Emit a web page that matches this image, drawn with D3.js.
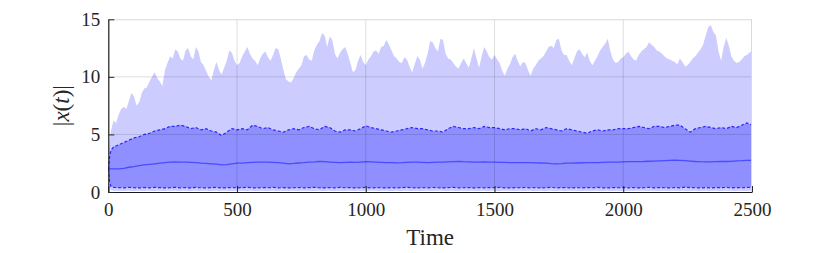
<!DOCTYPE html>
<html>
<head>
<meta charset="utf-8">
<script src="https://cdn.jsdelivr.net/npm/d3@7"></script>
<style>
  html, body { margin: 0; padding: 0; background: #fff; }
  svg { display: block; }
  svg text { font-family: 'Liberation Serif', 'Times New Roman', serif; }
</style>
</head>
<body>
<svg id="chart" width="830" height="253"></svg>
<script>
// ---- data ----
const time = [0, 5, 10, 20, 40, 60, 80, 100, 120, 140, 160, 180, 200, 220, 240, 260, 280, 300, 320, 340, 360, 380, 400, 420, 440, 460, 480, 500, 520, 540, 560, 580, 600, 620, 640, 660, 680, 700, 720, 740, 760, 780, 800, 820, 840, 860, 880, 900, 920, 940, 960, 980, 1000, 1020, 1040, 1060, 1080, 1100, 1120, 1140, 1160, 1180, 1200, 1220, 1240, 1260, 1280, 1300, 1320, 1340, 1360, 1380, 1400, 1420, 1440, 1460, 1480, 1500, 1520, 1540, 1560, 1580, 1600, 1620, 1640, 1660, 1680, 1700, 1720, 1740, 1760, 1780, 1800, 1820, 1840, 1860, 1880, 1900, 1920, 1940, 1960, 1980, 2000, 2020, 2040, 2060, 2080, 2100, 2120, 2140, 2160, 2180, 2200, 2220, 2240, 2260, 2280, 2300, 2320, 2340, 2360, 2380, 2400, 2420, 2440, 2460, 2480, 2500];

const maxVals = [2.0, 4.4, 5.3, 6.2, 6.7, 7.4, 7.9, 8.3, 7.8, 9.0, 9.6, 10.4, 9.6, 10.6, 11.8, 12.4, 11.6, 12.3, 11.8, 12.6, 11.3, 10.5, 9.7, 11.3, 10.2, 11.4, 12.1, 11.0, 11.8, 12.6, 11.6, 11.0, 12.0, 11.7, 11.9, 12.4, 10.6, 9.6, 9.9, 10.7, 11.8, 11.5, 12.3, 13.1, 13.6, 13.5, 12.0, 12.1, 12.6, 11.2, 10.6, 11.9, 11.0, 11.8, 12.3, 12.6, 13.2, 12.3, 11.6, 11.2, 11.5, 10.4, 11.8, 10.7, 12.0, 13.0, 12.2, 13.2, 11.6, 11.2, 10.7, 11.6, 10.8, 12.5, 10.8, 12.6, 11.7, 11.9, 11.2, 10.1, 11.1, 12.0, 10.9, 11.2, 10.1, 11.0, 11.6, 12.2, 12.7, 13.2, 12.3, 11.9, 11.0, 12.2, 12.0, 12.1, 11.0, 11.8, 12.6, 13.3, 11.5, 11.3, 11.7, 12.2, 11.5, 11.9, 12.4, 13.0, 12.6, 12.2, 11.8, 11.5, 11.3, 11.6, 10.9, 11.3, 11.8, 12.4, 13.6, 14.5, 13.6, 11.4, 13.4, 11.8, 11.2, 11.5, 11.9, 12.3];

// extra envelope samples between the main ones (t = 30, 50, ..., 2490)
const maxMidTime = d3.range(30, 2500, 20);
const maxMidVals = [6.0, 7.2, 7.2, 8.6, 7.5, 8.6, 9.1, 10.0, 9.9, 9.2, 11.2, 11.6, 12.2, 11.4, 12.5, 11.5, 12.2, 11.0, 10.0, 10.6, 10.6, 10.8, 12.3, 11.4, 11.2, 12.2, 12.0, 11.4, 11.6, 12.2, 11.4, 12.5, 11.6, 9.8, 9.5, 10.4, 11.0, 11.9, 11.4, 12.8, 13.8, 12.6, 13.2, 11.6, 12.4, 12.0, 10.4, 11.4, 11.3, 11.5, 12.2, 12.0, 12.7, 12.8, 11.8, 11.3, 11.7, 10.9, 11.1, 11.5, 11.2, 13.1, 12.5, 13.3, 12.0, 11.5, 10.9, 11.2, 11.2, 11.6, 11.6, 11.8, 12.2, 11.5, 11.5, 10.5, 10.7, 11.7, 11.4, 11.3, 10.6, 10.7, 11.4, 11.8, 12.6, 12.5, 13.3, 11.9, 11.4, 11.6, 12.4, 11.7, 11.4, 11.4, 12.3, 12.9, 12.2, 11.2, 11.6, 12.0, 11.8, 11.4, 12.2, 12.6, 12.8, 12.3, 12.0, 11.6, 11.4, 11.1, 11.3, 11.0, 11.6, 12.1, 12.8, 14.3, 13.9, 12.2, 12.6, 12.7, 11.4, 11.3, 11.8, 12.1];

const upperVals = [2.0, 3.0, 3.6, 3.9, 4.1, 4.3, 4.5, 4.7, 4.8, 5.0, 5.1, 5.3, 5.4, 5.5, 5.7, 5.7, 5.8, 5.7, 5.5, 5.6, 5.4, 5.5, 5.3, 5.2, 4.9, 5.2, 5.5, 5.4, 5.5, 5.4, 5.8, 5.7, 5.5, 5.6, 5.4, 5.3, 5.2, 5.4, 5.5, 5.4, 5.6, 5.7, 5.5, 5.4, 5.7, 5.6, 5.3, 5.2, 5.4, 5.4, 5.3, 5.5, 5.75, 5.6, 5.5, 5.4, 5.3, 5.2, 5.3, 5.4, 5.5, 5.6, 5.5, 5.5, 5.4, 5.3, 5.3, 5.2, 5.5, 5.7, 5.6, 5.5, 5.5, 5.6, 5.5, 5.7, 5.6, 5.6, 5.5, 5.4, 5.5, 5.5, 5.4, 5.5, 5.3, 5.5, 5.4, 5.6, 5.5, 5.4, 5.3, 5.5, 5.4, 5.3, 5.2, 5.1, 5.3, 5.4, 5.3, 5.4, 5.4, 5.5, 5.5, 5.5, 5.6, 5.7, 5.6, 5.5, 5.7, 5.7, 5.6, 5.7, 5.8, 5.8, 5.5, 5.2, 5.5, 5.6, 5.7, 5.6, 5.5, 5.6, 5.5, 5.7, 5.6, 5.8, 6.0, 5.8];

const meanVals = [2.05, 2.0, 2.0, 2.0, 2.0, 2.05, 2.15, 2.2, 2.3, 2.35, 2.4, 2.45, 2.5, 2.55, 2.6, 2.62, 2.6, 2.6, 2.58, 2.55, 2.5, 2.48, 2.45, 2.42, 2.35, 2.38, 2.45, 2.5, 2.5, 2.55, 2.58, 2.6, 2.6, 2.6, 2.58, 2.55, 2.5, 2.45, 2.48, 2.52, 2.55, 2.6, 2.62, 2.65, 2.63, 2.6, 2.58, 2.55, 2.58, 2.6, 2.58, 2.6, 2.63, 2.62, 2.6, 2.58, 2.56, 2.55, 2.53, 2.55, 2.58, 2.6, 2.6, 2.58, 2.56, 2.58, 2.6, 2.6, 2.62, 2.64, 2.65, 2.63, 2.62, 2.6, 2.6, 2.62, 2.6, 2.6, 2.58, 2.57, 2.56, 2.55, 2.55, 2.56, 2.55, 2.53, 2.52, 2.5, 2.47, 2.45, 2.47, 2.5, 2.5, 2.52, 2.54, 2.55, 2.56, 2.56, 2.58, 2.6, 2.6, 2.6, 2.62, 2.63, 2.63, 2.64, 2.65, 2.67, 2.68, 2.7, 2.72, 2.74, 2.76, 2.75, 2.72, 2.68, 2.65, 2.63, 2.62, 2.62, 2.64, 2.66, 2.65, 2.66, 2.7, 2.72, 2.75, 2.75];

const lowerVals = [2.0, 0.9, 0.5, 0.4, 0.38, 0.36, 0.4, 0.37, 0.35, 0.38, 0.36, 0.4, 0.38, 0.35, 0.37, 0.4, 0.36, 0.38, 0.35, 0.4, 0.37, 0.36, 0.38, 0.4, 0.35, 0.37, 0.39, 0.36, 0.38, 0.4, 0.36, 0.35, 0.38, 0.37, 0.4, 0.36, 0.38, 0.35, 0.37, 0.39, 0.36, 0.38, 0.4, 0.37, 0.35, 0.38, 0.36, 0.4, 0.37, 0.38, 0.35, 0.37, 0.4, 0.36, 0.38, 0.37, 0.35, 0.39, 0.36, 0.38, 0.4, 0.37, 0.35, 0.38, 0.36, 0.39, 0.37, 0.35, 0.38, 0.4, 0.36, 0.37, 0.38, 0.35, 0.39, 0.36, 0.38, 0.37, 0.4, 0.36, 0.35, 0.38, 0.37, 0.39, 0.36, 0.38, 0.35, 0.37, 0.4, 0.36, 0.38, 0.37, 0.35, 0.39, 0.36, 0.38, 0.37, 0.4, 0.36, 0.35, 0.38, 0.37, 0.39, 0.36, 0.38, 0.35, 0.37, 0.4, 0.36, 0.38, 0.37, 0.35, 0.39, 0.36, 0.42, 0.38, 0.37, 0.35, 0.39, 0.36, 0.38, 0.37, 0.4, 0.36, 0.38, 0.37, 0.39, 0.4];

const minVals = [1.9, 0.4, 0.15, 0.1, 0.1, 0.08, 0.1, 0.09, 0.1, 0.08, 0.1, 0.09, 0.1, 0.08, 0.1, 0.1, 0.09, 0.1, 0.08, 0.1, 0.09, 0.1, 0.08, 0.1, 0.09, 0.1, 0.08, 0.1, 0.1, 0.09, 0.1, 0.08, 0.1, 0.09, 0.1, 0.08, 0.1, 0.09, 0.1, 0.08, 0.1, 0.1, 0.09, 0.1, 0.08, 0.1, 0.09, 0.1, 0.08, 0.1, 0.09, 0.1, 0.08, 0.1, 0.1, 0.09, 0.1, 0.08, 0.1, 0.09, 0.1, 0.08, 0.1, 0.09, 0.1, 0.08, 0.1, 0.1, 0.09, 0.1, 0.08, 0.1, 0.09, 0.1, 0.08, 0.1, 0.09, 0.1, 0.08, 0.1, 0.1, 0.09, 0.1, 0.08, 0.1, 0.09, 0.1, 0.08, 0.1, 0.09, 0.1, 0.08, 0.1, 0.1, 0.09, 0.1, 0.08, 0.1, 0.09, 0.1, 0.08, 0.1, 0.09, 0.1, 0.08, 0.1, 0.1, 0.09, 0.1, 0.08, 0.1, 0.09, 0.1, 0.08, 0.1, 0.09, 0.1, 0.08, 0.1, 0.09, 0.1, 0.08, 0.1, 0.1, 0.09, 0.1, 0.08, 0.1];

const xTicks = [0, 500, 1000, 1500, 2000, 2500];
const yTicks = [0, 5, 10, 15];
const xLabel = "Time";

// ---- layout ----
const W = 830, H = 253;
const m = { left: 108.3, right: 78, top: 19.3, bottom: 61 };
const iw = W - m.left - m.right, ih = H - m.top - m.bottom;

const svg = d3.select("#chart");
const x = d3.scaleLinear().domain([0, 2500]).range([0, iw]);
const y = d3.scaleLinear().domain([0, 15]).range([ih, 0]);

const g = svg.append("g").attr("transform", `translate(${m.left},${m.top})`);

g.append("defs").append("clipPath").attr("id", "clip")
  .append("rect").attr("width", iw).attr("height", ih);

const idx = d3.range(time.length);
const plot = g.append("g").attr("clip-path", "url(#clip)");

// envelope: merge main samples with intermediate samples
const envMax = idx.map(i => ({ t: time[i], v: maxVals[i] }))
  .concat(maxMidTime.slice(0, maxMidVals.length).map((t, j) => ({ t, v: maxMidVals[j] })))
  .sort((a, b) => a.t - b.t);
const minLookup = t => minVals[d3.bisectLeft(time, t)] ?? minVals[minVals.length - 1];

// outer band (min .. max)
plot.append("path")
  .attr("d", d3.area().x(d => x(d.t)).y0(d => y(minLookup(d.t))).y1(d => y(d.v))(envMax))
  .attr("fill", "#ccccff");

// inner band (lower .. upper)
plot.append("path")
  .attr("d", d3.area().x(i => x(time[i])).y0(i => y(lowerVals[i])).y1(i => y(upperVals[i]))(idx))
  .attr("fill", "#8f8fff");

const line = arr => d3.line().x(i => x(time[i])).y(i => y(arr[i]))(idx);

plot.append("path").attr("d", line(upperVals))
  .attr("fill", "none").attr("stroke", "#1a1aff").attr("stroke-width", 1.2)
  .attr("stroke-dasharray", "3,2").attr("stroke-opacity", 0.9);
plot.append("path").attr("d", line(lowerVals))
  .attr("fill", "none").attr("stroke", "#1a1aff").attr("stroke-width", 1.2)
  .attr("stroke-dasharray", "3,2").attr("stroke-opacity", 0.9);
plot.append("path").attr("d", line(meanVals))
  .attr("fill", "none").attr("stroke", "#3a3aff").attr("stroke-width", 1.3)
  .attr("stroke-opacity", 0.8);

// grid on top
const grid = g.append("g");
grid.selectAll("line.gx").data(xTicks.slice(1, -1)).join("line")
  .attr("x1", d => x(d)).attr("x2", d => x(d)).attr("y1", 0).attr("y2", ih)
  .attr("stroke", "#000").attr("stroke-opacity", 0.13).attr("stroke-width", 1);
grid.selectAll("line.gy").data(yTicks.slice(1, -1)).join("line")
  .attr("x1", 0).attr("x2", iw).attr("y1", d => y(d)).attr("y2", d => y(d))
  .attr("stroke", "#000").attr("stroke-opacity", 0.13).attr("stroke-width", 1);

// box top/right
g.append("line").attr("x1", 0).attr("x2", iw).attr("y1", 0.5).attr("y2", 0.5)
  .attr("stroke", "#d9d9d9");
g.append("line").attr("x1", iw - 0.5).attr("x2", iw - 0.5).attr("y1", 0).attr("y2", ih)
  .attr("stroke", "#d9d9d9");

// axes
const fontSerif = "'Liberation Serif', 'Times New Roman', serif";
const xAxis = g.append("g").attr("transform", `translate(0,${ih})`)
  .call(d3.axisBottom(x).tickValues(xTicks).tickFormat(d3.format("d"))
    .tickSizeInner(-6).tickSizeOuter(0).tickPadding(11));
const yAxis = g.append("g")
  .call(d3.axisLeft(y).tickValues(yTicks).tickFormat(d3.format("d"))
    .tickSizeInner(-6).tickSizeOuter(0).tickPadding(8));

[xAxis, yAxis].forEach(a => {
  a.attr("font-family", fontSerif).attr("font-size", 19);
  a.select(".domain").attr("stroke", "#1a1a1a").attr("stroke-width", 1.2);
  a.selectAll(".tick line").attr("stroke", "#262626").attr("stroke-width", 1);
  a.selectAll(".tick text").style("font-family", fontSerif).style("font-size", "19px").attr("fill", "#262626");
});

// x label
svg.append("text")
  .attr("x", m.left + iw / 2).attr("y", 245)
  .attr("text-anchor", "middle")
  .style("font-family", fontSerif).style("font-size", "23px").attr("fill", "#262626")
  .text(xLabel);

// y label |x(t)|
const yl = svg.append("text")
  .attr("transform", `translate(69,${m.top + ih / 2}) rotate(-90)`)
  .attr("text-anchor", "middle")
  .style("font-family", fontSerif).style("font-size", "23px").attr("fill", "#262626");
yl.append("tspan").text("|");
yl.append("tspan").attr("font-style", "italic").text("x");
yl.append("tspan").text("(");
yl.append("tspan").attr("font-style", "italic").text("t");
yl.append("tspan").text(")|");
</script>
</body>
</html>
